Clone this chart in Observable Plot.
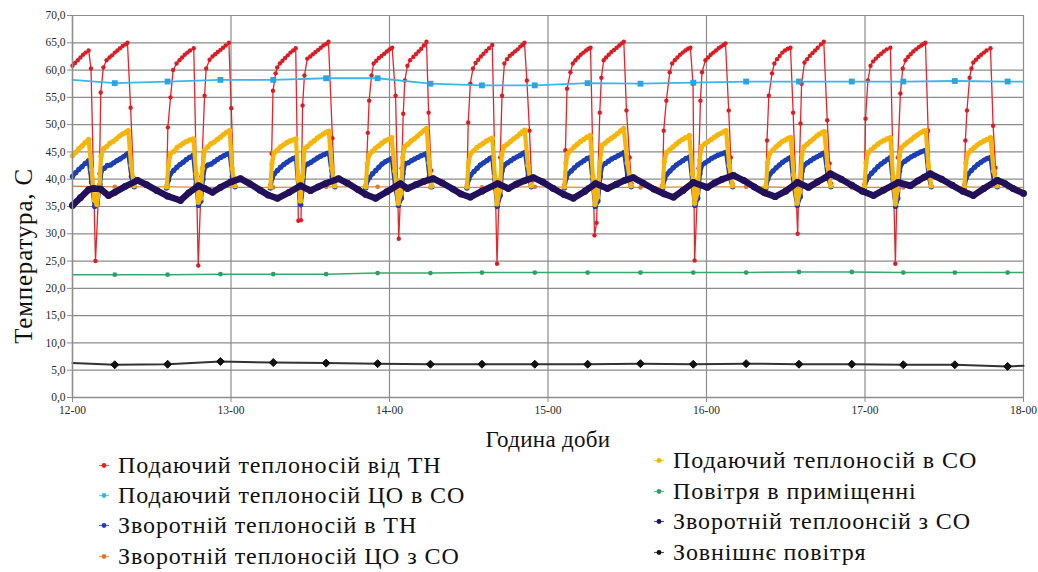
<!DOCTYPE html>
<html>
<head>
<meta charset="utf-8">
<script src="https://cdn.jsdelivr.net/npm/d3@7"></script>
<script src="https://cdn.jsdelivr.net/npm/@observablehq/plot@0.6"></script>
<style>
  html, body { margin: 0; padding: 0; background: #fff; }
  #wrap { position: relative; width: 1038px; height: 572px; overflow: hidden; background: #fff; }
  #chart { position: absolute; left: 0; top: 0; }
  .lbl { position: absolute; font-family: "Liberation Serif", "Times New Roman", serif; color: #111; white-space: nowrap; }
  .leg { position: absolute; font-family: "Liberation Serif", "Times New Roman", serif; font-size: 24px; letter-spacing: 0.9px; color: #111; white-space: nowrap; display: flex; align-items: center; transform: translateY(-50%); }
  .leg svg { margin-right: 8px; }
</style>
</head>
<body>
<div id="wrap">
  <div id="chart"></div>
  <div class="lbl" id="ylab" style="left:24px; top:256px; font-size:25px; letter-spacing:0.8px; transform: translate(-50%,-50%) rotate(-90deg);">Температура, С</div>
  <div class="lbl" id="xlab" style="left:548px; top:440px; font-size:23px; letter-spacing:0.3px; transform: translate(-50%,-50%);">Година доби</div>
  <div id="legend"></div>
</div>
<script>
// ---- tick values (minutes from 12-00, temperatures) ----
const hourTicks = [0, 60, 120, 180, 240, 300, 360];
const tempTicks = [0, 5, 10, 15, 20, 25, 30, 35, 40, 45, 50, 55, 60, 65, 70];

// ---- series: [minute, °C] ; segments = heat-pump running periods ----
const redSupplyHP = [
  [[0,60.8],[1,61.3],[2,61.8],[3,62.3],[4,62.8],[5,63.2],[6.1,63.6],[7,60.3],[8.7,25.0],[10.2,41.0],[10.7,55.9],[11.7,60.5],[12.9,61.8],[14,62.3],[15,62.7],[16,63.2],[17,63.6],[18,64.0],[19,64.4],[20,64.7],[20.8,65.0],[22,53.1],[23.1,40.3]],
  [[35.6,38.8],[36.1,49.5],[37.1,55.0],[38.1,60.0],[39.4,61.2],[40.5,61.8],[41.5,62.3],[42.5,62.8],[43.5,63.2],[44.5,63.6],[45.9,64.0],[47.6,24.2],[48.8,40.5],[50,55.3],[50.6,60.3],[51.9,61.9],[53,62.5],[54,62.9],[55,63.3],[56,63.7],[57,64.1],[58,64.5],[59.2,65.0],[60.1,53.0],[61,40.3]],
  [[74.9,39.0],[75.4,44.7],[75.9,56.2],[76.9,59.4],[77.5,60.5],[78.5,61.2],[79.5,61.7],[80.5,62.2],[81.5,62.7],[82.5,63.2],[83.5,63.6],[84.5,64.0],[85.5,32.4],[86.5,32.5],[87.1,53.5],[87.8,59.0],[88.9,62.1],[90,62.5],[91,62.9],[92,63.3],[93,63.7],[94,64.1],[95,64.5],[96,64.8],[96.9,65.2],[98.4,47.5],[99.2,39.5]],
  [[111,39.0],[111.8,48.5],[112.3,54.4],[113.2,59.0],[114,61.2],[115,61.7],[116,62.2],[117,62.6],[118,63.0],[119,63.4],[120,63.8],[121,64.1],[122.3,55.3],[123.5,29.1],[124.6,42.0],[125.2,52.0],[125.8,58.1],[126.8,60.8],[127.8,61.8],[129,62.4],[130,62.9],[131,63.4],[132,63.9],[133,64.5],[134,65.2],[134.8,52.2],[135.8,41.6]],
  [[149.3,39.0],[149.8,50.4],[150.6,57.5],[151.6,60.3],[152.6,61.3],[153.6,61.9],[154.6,62.5],[155.6,63.0],[156.6,63.5],[157.7,64.0],[158.9,64.6],[160.7,24.5],[161.9,44.0],[162.6,55.3],[163.5,61.2],[164.5,62.0],[165.5,62.6],[166.5,63.0],[167.5,63.4],[168.5,63.8],[169.5,64.3],[170.3,64.6],[171.1,65.0],[172,58.1],[173,48.9],[173.8,39.5]],
  [[186.2,39.0],[186.6,45.3],[187.2,56.6],[188.5,59.6],[189.4,61.2],[190.4,61.8],[191.4,62.3],[192.4,62.8],[193.4,63.2],[194.4,63.6],[195.3,63.9],[196.1,64.1],[197.6,29.7],[198.4,32.0],[199.6,52.2],[200.2,58.6],[201.1,61.8],[202,62.3],[203,62.8],[204,63.3],[205,63.7],[206,64.1],[207,64.5],[207.9,64.9],[208.7,65.2],[209.7,52.6],[210.9,44.0],[211.6,39.2]],
  [[223.4,39.0],[223.8,48.9],[224.8,54.4],[226.1,59.6],[227,61.2],[228,61.8],[229,62.3],[230,62.8],[231,63.2],[232,63.6],[233,63.9],[233.9,64.1],[234.9,57.5],[235.5,25.1],[237,42.0],[237.7,54.4],[238.3,59.6],[239.6,61.8],[240.6,62.3],[241.6,62.8],[242.6,63.2],[243.6,63.6],[244.6,64.0],[245.5,64.3],[246.4,64.6],[247.2,64.9],[248.4,52.6],[249.2,44.0],[249.8,39.2]],
  [[262.5,39.0],[262.9,47.1],[263.6,55.3],[264.8,59.4],[265.7,61.2],[266.7,62.0],[267.7,62.6],[268.7,63.2],[269.7,63.6],[270.8,63.9],[271.8,64.1],[272.8,52.2],[274.5,30.0],[275.6,50.2],[276,57.5],[277.1,61.4],[278.1,62.0],[279.1,62.6],[280.1,63.1],[281.1,63.6],[282.1,64.1],[283.3,64.7],[284.4,65.2],[285.7,50.8],[286.6,42.9],[287.2,39.2]],
  [[299.8,39.0],[300.2,51.1],[301.1,58.1],[302.1,60.8],[303.1,61.6],[304.1,62.1],[305.1,62.6],[306.1,63.0],[307.1,63.4],[308.2,63.8],[309.6,64.1],[311.5,24.5],[312.4,44.0],[313.4,55.7],[314.3,60.3],[315.3,61.8],[316.3,62.4],[317.3,62.9],[318.3,63.4],[319.3,63.8],[320.3,64.2],[321.3,64.5],[322.1,64.8],[322.9,65.0],[323.9,48.9],[324.8,39.2]],
  [[337.6,39.0],[338,47.1],[338.6,52.6],[339.6,58.6],[340.3,60.3],[341,61.4],[342,61.9],[343,62.4],[344,62.8],[345,63.2],[346,63.6],[347.5,64.0],[348.5,49.8],[349.4,42.1],[350,39.3]]
];

const yellowSupplySO = [
  [[0,44.3],[1.2,44.9],[2.4,45.6],[3.6,46.1],[4.8,46.7],[6.1,47.3],[7.2,41.8],[8.2,36.2],[9.2,35.4],[10.2,38.5],[10.8,44.2],[11.8,45.6],[13,46.0],[14.2,46.6],[15.4,46.9],[16.6,47.4],[17.8,47.9],[19,48.3],[20.2,48.6],[21.1,48.9],[22.2,42.5],[23.3,38.8]],
  [[35.6,38.6],[36.3,42.5],[37.1,44.7],[38.4,45.1],[39.6,45.8],[40.8,46.2],[42,46.6],[43.2,46.9],[44.4,47.2],[45.8,47.4],[46.8,41.0],[47.6,35.8],[48.5,36.5],[49.2,42.0],[50,45.3],[51.2,45.9],[52.4,46.5],[53.6,46.8],[54.8,47.3],[56,47.7],[57.2,48.2],[58.4,48.6],[59.5,48.9],[60.4,42.0],[61.4,38.8]],
  [[74.9,38.6],[75.5,42.8],[76.3,44.8],[77.5,45.3],[78.7,45.9],[79.9,46.3],[81.1,46.7],[82.3,47.0],[83.5,47.2],[84.6,47.4],[85.4,40.0],[86.3,36.0],[87.1,40.5],[87.8,45.6],[89,46.0],[90.2,46.6],[91.4,47.0],[92.6,47.5],[93.8,47.9],[95,48.3],[96.1,48.6],[97,48.8],[98.2,42.0],[99.2,38.8]],
  [[111,38.6],[111.6,42.8],[112.3,44.4],[113.5,45.1],[114.7,45.7],[115.9,46.1],[117.1,46.6],[118.3,47.0],[119.5,47.3],[120.8,47.6],[122,41.5],[123.3,35.6],[124.4,37.5],[125,44.0],[125.8,46.0],[127,46.4],[128.2,47.0],[129.4,47.4],[130.6,47.9],[131.8,48.4],[133,48.9],[134.1,49.3],[135,43.0],[135.9,38.8]],
  [[149.3,38.6],[149.9,43.0],[150.7,44.7],[151.9,45.2],[153.1,45.8],[154.3,46.2],[155.5,46.6],[156.7,47.0],[157.9,47.3],[158.9,47.5],[159.9,40.5],[160.7,35.5],[161.8,38.0],[162.5,44.5],[163.4,46.0],[164.6,46.4],[165.8,46.9],[167,47.4],[168.2,47.8],[169.4,48.3],[170.4,48.7],[171.2,49.0],[172.4,42.5],[173.6,38.8]],
  [[186.2,38.6],[186.8,43.0],[187.5,44.7],[188.7,45.3],[189.9,45.9],[191.1,46.4],[192.3,46.9],[193.5,47.3],[194.7,47.7],[196,48.0],[197,40.5],[197.8,35.4],[198.8,36.8],[199.7,43.0],[200.4,46.2],[201.6,46.6],[202.8,47.1],[204,47.5],[205.2,47.9],[206.4,48.4],[207.6,48.9],[208.7,49.3],[210,43.0],[211.4,38.8]],
  [[223.4,38.6],[224,43.2],[224.9,44.9],[226.1,45.4],[227.3,45.9],[228.5,46.4],[229.7,46.9],[230.9,47.3],[232.1,47.6],[233.5,48.0],[234.7,41.0],[235.5,35.6],[236.6,37.5],[237.4,43.5],[238.2,46.0],[239.4,46.5],[240.6,46.9],[241.8,47.3],[243,47.7],[244.2,48.1],[245.4,48.4],[246.6,48.7],[247.4,48.9],[248.6,42.5],[249.8,38.8]],
  [[262.5,38.6],[263.1,43.0],[263.9,44.7],[265.1,45.3],[266.3,45.9],[267.5,46.4],[268.7,46.9],[269.9,47.2],[271,47.5],[271.9,47.6],[273,40.8],[274.3,35.6],[275.4,37.8],[276.1,44.5],[276.9,45.9],[278.1,46.4],[279.3,46.9],[280.5,47.4],[281.7,47.9],[282.9,48.3],[284,48.6],[284.6,48.7],[285.8,42.5],[287,38.8]],
  [[299.8,38.6],[300.4,43.0],[301.2,44.9],[302.4,45.4],[303.6,45.9],[304.8,46.4],[306,46.8],[307.2,47.1],[308.4,47.4],[309.6,47.6],[310.6,40.5],[311.5,35.5],[312.3,38.0],[313,44.2],[313.8,45.8],[315,46.3],[316.2,46.8],[317.4,47.2],[318.6,47.7],[319.8,48.1],[321,48.5],[322.2,48.8],[323,48.9],[324,42.5],[325,38.8]],
  [[337.6,38.6],[338.2,43.0],[339,44.7],[340.2,45.3],[341.4,45.8],[342.6,46.3],[343.8,46.7],[345,47.0],[346.2,47.3],[347.5,47.6],[348.7,41.5],[350,38.8]]
];

const blueReturnHP = [
  [[0,40.5],[1.2,41.2],[2.4,41.8],[3.6,42.3],[4.8,42.9],[6.1,43.4],[7.2,39.5],[8.4,35.0],[9.4,35.5],[10.4,39.0],[11,41.6],[12,42.0],[13.2,42.5],[14.4,42.6],[15.6,43.0],[16.8,43.4],[18,43.7],[19.2,44.1],[20.4,44.5],[21.1,44.7],[22.3,40.5],[23.4,38.6]],
  [[35.6,38.4],[36.3,39.8],[37.1,41.0],[38.3,41.6],[39.5,42.2],[40.7,42.7],[41.9,43.1],[43.1,43.6],[44.3,44.0],[45.7,44.4],[46.8,39.0],[47.7,35.2],[48.6,36.0],[49.4,40.0],[50.1,42.2],[51.3,42.6],[52.5,42.8],[53.7,43.2],[54.9,43.6],[56.1,44.0],[57.3,44.3],[58.5,44.6],[59.5,44.7],[60.5,40.5],[61.5,38.6]],
  [[74.9,38.4],[75.6,40.2],[76.4,41.0],[77.6,41.6],[78.8,42.2],[80,42.7],[81.2,43.1],[82.4,43.5],[83.6,43.8],[84.6,44.0],[85.5,38.5],[86.4,35.3],[87.2,38.5],[87.9,42.4],[89.1,42.8],[90.3,43.1],[91.5,43.5],[92.7,43.9],[93.9,44.2],[95.1,44.5],[96.3,44.7],[97.1,44.8],[98.3,40.5],[99.3,38.6]],
  [[111,38.4],[111.7,39.8],[112.4,40.3],[113.6,41.0],[114.8,41.6],[116,42.2],[117.2,42.8],[118.4,43.2],[119.6,43.5],[120.9,43.8],[122.1,38.8],[123.4,35.2],[124.5,36.5],[125.1,41.0],[125.9,42.9],[127.1,43.0],[128.3,43.4],[129.5,43.7],[130.7,44.0],[131.9,44.3],[133.1,44.5],[134.1,44.7],[135.1,40.5],[136,38.6]],
  [[149.3,38.4],[150,40.0],[150.8,40.8],[152,41.4],[153.2,42.0],[154.4,42.6],[155.6,43.0],[156.8,43.4],[158,43.8],[158.9,44.0],[160,38.5],[160.8,35.0],[161.9,37.0],[162.6,41.5],[163.5,42.6],[164.7,43.0],[165.9,43.4],[167.1,43.8],[168.3,44.1],[169.5,44.4],[170.5,44.7],[171.3,44.9],[172.5,40.5],[173.7,38.6]],
  [[186.2,38.4],[186.9,40.2],[187.6,41.0],[188.8,41.5],[190,42.1],[191.2,42.6],[192.4,43.0],[193.6,43.4],[194.8,43.8],[196,44.0],[197.1,38.5],[197.9,35.0],[198.9,36.0],[199.8,40.5],[200.5,42.5],[201.7,42.9],[202.9,43.3],[204.1,43.7],[205.3,44.0],[206.5,44.3],[207.7,44.6],[208.8,44.9],[210.1,40.5],[211.5,38.6]],
  [[223.4,38.4],[224.1,40.0],[225,40.9],[226.2,41.5],[227.4,42.1],[228.6,42.6],[229.8,43.0],[231,43.4],[232.2,43.8],[233.6,44.1],[234.8,38.8],[235.6,35.2],[236.7,36.5],[237.5,41.0],[238.3,42.6],[239.5,43.0],[240.7,43.4],[241.9,43.8],[243.1,44.1],[244.3,44.4],[245.5,44.6],[246.7,44.8],[247.4,44.9],[248.7,40.5],[249.9,38.6]],
  [[262.5,38.4],[263.2,40.0],[264,40.9],[265.2,41.5],[266.4,42.1],[267.6,42.6],[268.8,43.1],[270,43.5],[271.1,43.8],[271.9,44.0],[273.1,38.6],[274.4,35.2],[275.5,36.8],[276.2,41.5],[277,42.6],[278.2,43.0],[279.4,43.4],[280.6,43.8],[281.8,44.1],[283,44.4],[284.1,44.7],[284.7,44.8],[285.9,40.5],[287.1,38.6]],
  [[299.8,38.4],[300.5,39.8],[301.3,40.4],[302.5,41.1],[303.7,41.7],[304.9,42.3],[306.1,42.8],[307.3,43.2],[308.5,43.6],[309.6,44.0],[310.7,38.5],[311.6,35.0],[312.4,36.5],[313.1,41.5],[313.9,42.9],[315.1,43.3],[316.3,43.7],[317.5,44.1],[318.7,44.4],[319.9,44.7],[321.1,45.0],[322.3,45.2],[323.1,45.3],[324.1,40.5],[325.1,38.6]],
  [[337.6,38.4],[338.3,40.2],[339.1,41.0],[340.3,41.6],[341.5,42.2],[342.7,42.7],[343.9,43.1],[345.1,43.5],[346.3,43.8],[347.5,44.0],[348.8,39.5],[350.1,38.6]]
];

const navyReturnSO = [[0,35.2],[3,36.6],[6.1,38.1],[8,38.3],[10.6,38.2],[13.6,37.0],[16,37.6],[20,38.7],[24.6,39.8],[28,39.0],[32,37.9],[36,36.9],[40.9,36.1],[44,37.5],[47.7,38.8],[50,38.3],[53,37.6],[56,38.5],[60,39.5],[63.6,40.1],[67,39.2],[71,38.0],[74,37.1],[77.6,36.5],[82,37.6],[86.3,38.8],[90.1,37.9],[93,38.6],[95.8,39.2],[100.7,40.1],[104,39.3],[108,38.1],[111,37.2],[114.7,36.5],[119,37.7],[124.1,39.2],[126.8,38.3],[130,39.0],[133,39.6],[136.6,40.1],[140,39.3],[144,38.2],[147,37.3],[150.6,36.7],[155,37.8],[160.9,39.2],[165,38.3],[168,39.1],[171,39.7],[174.5,40.3],[178,39.5],[182,38.3],[186,37.2],[189.6,36.5],[194,37.8],[198,39.2],[202.5,38.3],[206,39.1],[209,39.8],[212.3,40.3],[216,39.3],[220,38.2],[224,37.3],[227.5,36.7],[231,37.9],[235,39.4],[240.3,38.5],[243,39.3],[246,40.0],[250.2,40.7],[254,39.8],[258,38.6],[262,37.5],[266,36.8],[270,37.8],[274.4,39.4],[278.6,38.5],[282,39.5],[285,40.3],[286.9,41.0],[291,40.0],[295,38.9],[299,37.8],[303.2,37.0],[307,38.0],[312.6,39.4],[317.2,38.8],[320,39.7],[322.5,40.4],[324.7,41.0],[329,40.0],[333,38.9],[337,37.8],[341,37.0],[345,38.3],[350.1,39.8],[353,39.2],[356,38.3],[360,37.4]];

// slow series: first and last entries are line ends, the rest carry markers
const slowMinutes = [0,16,36,56,76,96,115.5,135.5,155,175,195,215,235,255,275,295,314.5,334,354,360];
const lightBlueSupplyCO = [58.2,57.6,57.9,58.2,58.2,58.5,58.5,57.5,57.2,57.2,57.6,57.5,57.7,57.9,57.9,57.9,57.9,58.0,57.9,57.9];
const orangeReturnCO    = [38.7,38.6,38.6,38.5,38.5,38.6,38.6,38.5,38.5,38.6,38.5,38.5,38.6,38.6,38.5,38.5,38.5,38.6,38.5,38.5];
const greenRoomAir      = [22.5,22.5,22.5,22.6,22.6,22.6,22.8,22.8,22.9,22.9,22.9,22.9,22.9,22.9,23.0,23.0,22.9,22.9,22.9,22.9];
const blackOutdoorAir   = [6.3,6.0,6.1,6.6,6.4,6.3,6.2,6.1,6.1,6.1,6.1,6.2,6.1,6.2,6.1,6.1,6.0,6.0,5.7,5.8];

const seriesNames = [
  "Подаючий теплоносій від ТН",
  "Подаючий теплоносій ЦО в СО",
  "Зворотній теплоносій в ТН",
  "Зворотній теплоносій ЦО з СО",
  "Подаючий теплоносій в СО",
  "Повітря в приміщенні",
  "Зворотній теплоонсій з СО",
  "Зовнішнє повітря"
];
const seriesColors = ["#e8232b", "#3db5e8", "#1d3fb5", "#e07a2e", "#f5b50a", "#2f9e6b", "#22105a", "#111111"];

// ---- build tables ----
const segRows = segs => segs.flatMap((s, i) => s.map(([t, v]) => ({t, v, seg: i})));
const pairRows = pts => pts.map(([t, v]) => ({t, v}));
const slowRows = vals => vals.map((v, i) => ({t: slowMinutes[i], v, i}));
const markerOnly = rows => rows.filter(d => d.i > 0 && d.i < slowMinutes.length - 1);

const red = segRows(redSupplyHP);
const yel = segRows(yellowSupplySO);
const blu = segRows(blueReturnHP);
const nav = pairRows(navyReturnSO);
const lb = slowRows(lightBlueSupplyCO);
const org = slowRows(orangeReturnCO);
const grn = slowRows(greenRoomAir);
const blk = slowRows(blackOutdoorAir);

const gridColor = "#8c8c8c";
const chart = Plot.plot({
  width: 1038,
  height: 425,
  marginLeft: 72,
  marginRight: 15,
  marginTop: 15,
  marginBottom: 28,
  style: {fontFamily: "'Liberation Serif', serif", fontSize: "11.5px", color: "#2a2a2a", background: "transparent", overflow: "visible"},
  x: {domain: [0, 360], ticks: hourTicks, tickFormat: m => `${12 + m / 60}-00`, tickSize: 5, tickPadding: 3, label: null},
  y: {domain: [0, 70], ticks: tempTicks, tickFormat: v => v.toFixed(1).replace(".", ","), tickSize: 5, tickPadding: 2, label: null},
  marks: [
    Plot.ruleY(tempTicks, {stroke: gridColor, strokeWidth: 1.2}),
    Plot.ruleX(hourTicks, {stroke: gridColor, strokeWidth: 1.2}),
    // 1 red
    Plot.line(red, {x: "t", y: "v", z: "seg", stroke: seriesColors[0], strokeWidth: 1.3}),
    Plot.dot(red, {x: "t", y: "v", r: 2.2, fill: "#d81e24", stroke: null}),
    // 2 light blue
    Plot.line(lb, {x: "t", y: "v", stroke: seriesColors[1], strokeWidth: 1.8}),
    Plot.dot(markerOnly(lb), {x: "t", y: "v", symbol: "square", r: 3.3, fill: "#2aa4e2", stroke: null}),
    // 3 blue
    Plot.line(blu, {x: "t", y: "v", z: "seg", stroke: seriesColors[2], strokeWidth: 4.2}),
    Plot.dot(blu, {x: "t", y: "v", r: 2.7, fill: seriesColors[2], stroke: null}),
    // 4 orange
    Plot.line(org, {x: "t", y: "v", stroke: "#d8894a", strokeWidth: 1.4}),
    Plot.dot(markerOnly(org), {x: "t", y: "v", r: 2.3, fill: seriesColors[3], stroke: null}),
    // 5 yellow
    Plot.line(yel, {x: "t", y: "v", z: "seg", stroke: seriesColors[4], strokeWidth: 4.2}),
    Plot.dot(yel, {x: "t", y: "v", r: 2.7, fill: seriesColors[4], stroke: null}),
    // 6 green
    Plot.line(grn, {x: "t", y: "v", stroke: "#38a86c", strokeWidth: 1.5}),
    Plot.dot(markerOnly(grn), {x: "t", y: "v", r: 2.4, fill: seriesColors[5], stroke: null}),
    // 7 navy
    Plot.line(nav, {x: "t", y: "v", stroke: seriesColors[6], strokeWidth: 6.5}),
    Plot.dot(nav, {x: "t", y: "v", r: 3.4, fill: seriesColors[6], stroke: null}),
    // 8 black
    Plot.line(blk, {x: "t", y: "v", stroke: "#333", strokeWidth: 2}),
    Plot.dot(markerOnly(blk), {x: "t", y: "v", symbol: "diamond2", r: 3.6, fill: "#111", stroke: "#111", strokeWidth: 1}),
    Plot.ruleX([0], {stroke: gridColor, strokeWidth: 1.4}),
    Plot.ruleY([0], {stroke: gridColor, strokeWidth: 1.4})
  ]
});
chart.querySelectorAll("[aria-label='x-axis tick'], [aria-label='y-axis tick']").forEach(g => g.setAttribute("stroke", gridColor));
document.getElementById("chart").appendChild(chart);

// ---- legend (two columns) ----
const legendPos = [
  {x: 98, y: 465}, {x: 98, y: 495}, {x: 98, y: 525}, {x: 98, y: 556},
  {x: 653, y: 460}, {x: 653, y: 491}, {x: 653, y: 521}, {x: 653, y: 552}
];
const legend = document.getElementById("legend");
seriesNames.forEach((name, i) => {
  const p = legendPos[i];
  const div = document.createElement("div");
  div.className = "leg";
  div.style.left = p.x + "px";
  div.style.top = p.y + "px";
  const c = seriesColors[i];
  div.innerHTML = `<svg width="12" height="10"><line x1="1" y1="5" x2="11" y2="5" stroke="${c}" stroke-width="1.2" opacity="0.7"/><circle cx="6" cy="5" r="2.4" fill="${c}"/></svg><span>${name}</span>`;
  legend.appendChild(div);
});
</script>
</body>
</html>
